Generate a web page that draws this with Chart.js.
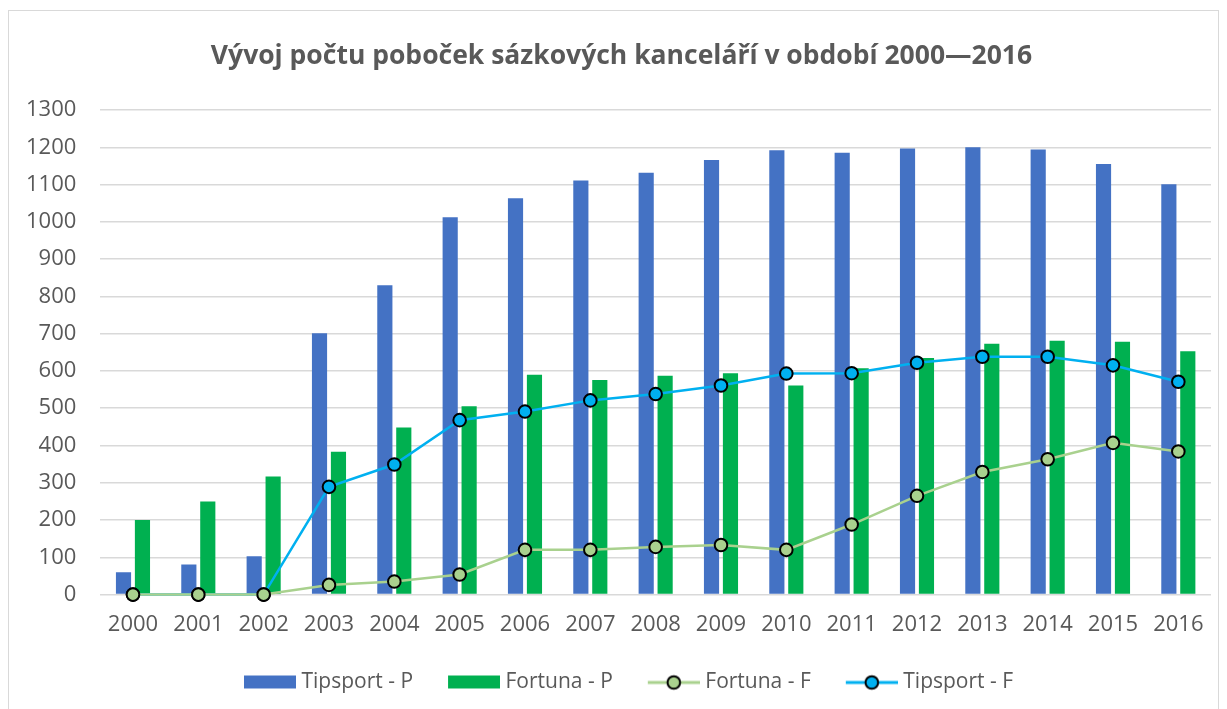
<!DOCTYPE html>
<html>
<head>
<meta charset="utf-8">
<script src="https://cdn.jsdelivr.net/npm/chart.js@4"></script>
<style>
html,body{margin:0;padding:0;background:#fff;}
canvas{display:block;}
</style>
</head>
<body>
<canvas id="c" width="1227" height="709"></canvas>
<script>
const years = ['2000','2001','2002','2003','2004','2005','2006','2007','2008','2009','2010','2011','2012','2013','2014','2015','2016'];
const tipsportP = [60, 81, 103, 701, 830, 1012, 1063, 1111, 1132, 1166, 1192, 1185, 1197, 1200, 1194, 1155, 1101];
const fortunaP  = [200, 250, 317, 383, 448, 505, 590, 576, 587, 594, 561, 607, 635, 673, 681, 678, 653];
const fortunaF  = [0, 0, 0, 26, 35, 54, 120, 120, 128, 133, 120, 188, 265, 329, 363, 407, 384];
const tipsportF = [0, 0, 0, 289, 349, 468, 491, 521, 538, 561, 593, 594, 622, 638, 638, 615, 571];
const seriesNames = ['Tipsport - P', 'Fortuna - P', 'Fortuna - F', 'Tipsport - F'];

const FONT = "'Open Sans', 'DejaVu Sans', sans-serif";
const TXT = '#595959';
const BLUE = '#4472C4', GREEN = '#00B050', LGREEN = '#A9D18E', CYAN = '#00B0F0';

// legend icons: 75px canvas, visible icon in the right 52px
function boxIcon(color) {
  const c = document.createElement('canvas');
  c.width = 75; c.height = 18;
  const g = c.getContext('2d');
  g.fillStyle = color; g.fillRect(23, 2, 52, 13);
  return c;
}
function lineIcon(color) {
  const c = document.createElement('canvas');
  c.width = 75; c.height = 18;
  const g = c.getContext('2d');
  g.strokeStyle = color; g.lineWidth = 3;
  g.beginPath(); g.moveTo(23, 9); g.lineTo(75, 9); g.stroke();
  g.beginPath(); g.arc(49, 9, 6.3, 0, Math.PI * 2);
  g.fillStyle = color; g.fill();
  g.lineWidth = 2; g.strokeStyle = '#000'; g.stroke();
  return c;
}
const icons = [boxIcon(BLUE), boxIcon(GREEN), lineIcon(LGREEN), lineIcon(CYAN)];

const frame = {
  id: 'frame',
  beforeDraw(chart) {
    const g = chart.ctx;
    g.save();
    g.fillStyle = '#fff';
    g.fillRect(0, 0, chart.width, chart.height);
    g.strokeStyle = '#d9d9d9';
    g.lineWidth = 1;
    g.strokeRect(8.5, 10.5, 1210, 720);
    g.restore();
  }
};

// nudge title and legend horizontally to match the reference centring
const nudge = {
  id: 'nudge',
  afterLayout(chart) {
    if (chart.titleBlock) { chart.titleBlock.left += 15; chart.titleBlock.right += 15; }
    if (chart.legend) { chart.legend.left += 13; chart.legend.right += 13; }
  }
};

new Chart(document.getElementById('c'), {
  data: {
    labels: years,
    datasets: [
      { type: 'bar', label: seriesNames[0], data: tipsportP, backgroundColor: BLUE, order: 2,
        barPercentage: 0.8, categoryPercentage: 0.58 },
      { type: 'bar', label: seriesNames[1], data: fortunaP, backgroundColor: GREEN, order: 2,
        barPercentage: 0.8, categoryPercentage: 0.58 },
      { type: 'line', label: seriesNames[2], data: fortunaF, borderColor: LGREEN, backgroundColor: LGREEN,
        borderWidth: 2.5, pointRadius: 6.3, pointBorderColor: '#000', pointBackgroundColor: LGREEN,
        pointBorderWidth: 2, order: 0, clip: false, tension: 0 },
      { type: 'line', label: seriesNames[3], data: tipsportF, borderColor: CYAN, backgroundColor: CYAN,
        borderWidth: 2.5, pointRadius: 6.3, pointBorderColor: '#000', pointBackgroundColor: CYAN,
        pointBorderWidth: 2, order: 1, clip: false, tension: 0 }
    ]
  },
  options: {
    responsive: false,
    animation: false,
    layout: { padding: { left: 2, right: 16, top: 10, bottom: 6 } },
    plugins: {
      tooltip: { enabled: false },
      title: {
        display: true,
        text: 'Vývoj počtu poboček sázkových kanceláří v období 2000—2016',
        color: TXT,
        font: { family: FONT, size: 26.5, weight: 'bold' },
        padding: { top: 31, bottom: 37.2 }
      },
      legend: {
        position: 'bottom',
        labels: {
          color: TXT,
          font: { family: FONT, size: 21 },
          usePointStyle: true,
          pointStyleWidth: 65,
          boxHeight: 18,
          padding: 17,
          generateLabels(chart) {
            return chart.data.datasets.map((ds, i) => ({
              text: ds.label,
              pointStyle: icons[i],
              fillStyle: ds.backgroundColor,
              strokeStyle: ds.backgroundColor,
              lineWidth: 0,
              fontColor: TXT,
              hidden: false,
              datasetIndex: i
            }));
          }
        }
      }
    },
    scales: {
      x: {
        grid: { display: false, drawTicks: false },
        border: { display: false },
        ticks: { color: TXT, font: { family: FONT, size: 22 }, padding: 17 }
      },
      y: {
        min: 0, max: 1300,
        grid: { color: '#d9d9d9', lineWidth: 1.5, drawTicks: false },
        border: { display: false },
        ticks: { stepSize: 100, color: TXT, font: { family: FONT, size: 22 }, padding: 24,
                 callback: v => String(v) }
      }
    }
  },
  plugins: [frame, nudge]
});
</script>
</body>
</html>
